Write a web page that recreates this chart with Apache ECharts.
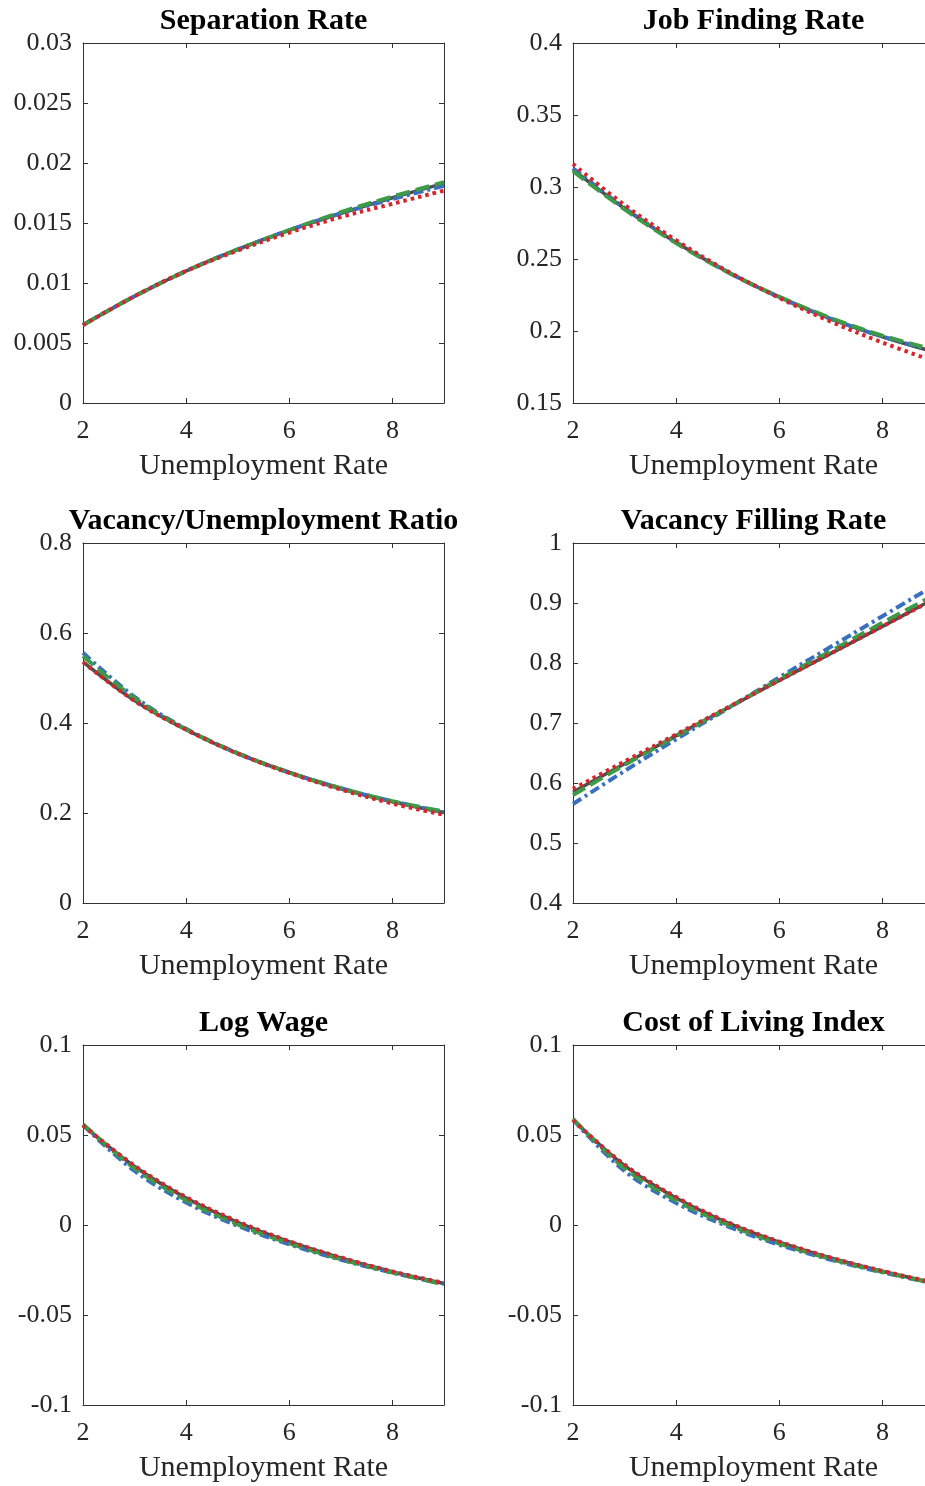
<!DOCTYPE html>
<html>
<head>
<meta charset="utf-8">
<script src="https://cdn.jsdelivr.net/npm/echarts@6/dist/echarts.min.js"></script>
<style>html,body{margin:0;padding:0;background:#fff}#c{width:925px;height:1486px}</style>
</head>
<body>
<div id="c"></div>
<script>
// ---- data ----
const unemp = [2, 3, 4, 5, 6, 7, 8, 9];
const seriesNames = ['Model A', 'Model B', 'Model C', 'Model D'];
const titles = ['Separation Rate', 'Job Finding Rate', 'Vacancy/Unemployment Ratio', 'Vacancy Filling Rate', 'Log Wage', 'Cost of Living Index'];
const xAxisName = 'Unemployment Rate';

const sepGray  = [0.0065, 0.0089, 0.0110, 0.0128, 0.0144, 0.0158, 0.0171, 0.0183];
const sepBlue  = [0.0065, 0.0089, 0.0110, 0.0128, 0.0144, 0.0158, 0.0170, 0.0181];
const sepGreen = [0.0065, 0.0089, 0.0110, 0.0128, 0.0144, 0.0159, 0.0172, 0.0184];
const sepRed   = [0.0065, 0.0089, 0.0110, 0.0127, 0.0142, 0.0155, 0.0166, 0.0177];

const jfGray  = [0.312, 0.2850, 0.2615, 0.2410, 0.2235, 0.2085, 0.1960, 0.1855];
const jfBlue  = [0.313, 0.2855, 0.2617, 0.2410, 0.2235, 0.2085, 0.1962, 0.1860];
const jfGreen = [0.311, 0.2845, 0.2610, 0.2408, 0.2237, 0.2090, 0.1968, 0.1870];
const jfRed   = [0.316, 0.2875, 0.2630, 0.2415, 0.2230, 0.2065, 0.1920, 0.1790];

const vuGray  = [0.536, 0.450, 0.385, 0.332, 0.290, 0.254, 0.225, 0.201];
const vuBlue  = [0.556, 0.458, 0.387, 0.333, 0.290, 0.255, 0.226, 0.202];
const vuGreen = [0.549, 0.455, 0.386, 0.333, 0.290, 0.255, 0.226, 0.203];
const vuRed   = [0.535, 0.449, 0.385, 0.332, 0.289, 0.252, 0.221, 0.196];

const vfGray  = [0.585, 0.632, 0.679, 0.725, 0.771, 0.816, 0.861, 0.907];
const vfBlue  = [0.565, 0.620, 0.673, 0.724, 0.776, 0.827, 0.878, 0.929];
const vfGreen = [0.580, 0.630, 0.678, 0.725, 0.773, 0.820, 0.867, 0.913];
const vfRed   = [0.590, 0.636, 0.681, 0.726, 0.771, 0.816, 0.861, 0.906];

const lwGray  = [0.0555, 0.0325, 0.0150, 0.0015, -0.0093, -0.0183, -0.0260, -0.0325];
const lwBlue  = [0.0555, 0.0300, 0.0125, -0.0005, -0.0108, -0.0193, -0.0265, -0.0327];
const lwGreen = [0.0560, 0.0315, 0.0138, 0.0003, -0.0102, -0.0190, -0.0264, -0.0330];
const lwRed   = [0.0553, 0.0330, 0.0155, 0.0020, -0.0090, -0.0180, -0.0258, -0.0322];

const colGray  = [0.0585, 0.0330, 0.0150, 0.0012, -0.0095, -0.0183, -0.0257, -0.0322];
const colBlue  = [0.0585, 0.0300, 0.0122, -0.0008, -0.0110, -0.0193, -0.0263, -0.0325];
const colGreen = [0.0590, 0.0315, 0.0136, 0.0002, -0.0103, -0.0189, -0.0261, -0.0324];
const colRed   = [0.0582, 0.0335, 0.0155, 0.0016, -0.0092, -0.0181, -0.0255, -0.0320];

const yMins = [0, 0.15, 0, 0.4, -0.1, -0.1];
const yMaxs = [0.03, 0.4, 0.8, 1, 0.1, 0.1];
const yIntervals = [0.005, 0.05, 0.2, 0.1, 0.05, 0.05];
const xMin = 2, xMax = 9, xInterval = 2;

const panelData = [
  [sepGray, sepBlue, sepGreen, sepRed],
  [jfGray, jfBlue, jfGreen, jfRed],
  [vuGray, vuBlue, vuGreen, vuRed],
  [vfGray, vfBlue, vfGreen, vfRed],
  [lwGray, lwBlue, lwGreen, lwRed],
  [colGray, colBlue, colGreen, colRed]
];

// ---- styles ----
const FONT = '"Liberation Serif", "Times New Roman", serif';
const AXC = '#333333';
const lineStyles = [
  { color: '#4d4d4d', type: 'solid', width: 3.5 },
  { color: '#3a6fc0', type: [10, 4, 3, 4], width: 4 },
  { color: '#3c9a48', type: [14, 6], width: 4 },
  { color: '#d7262b', type: [3.5, 4], width: 4 }
];
const colLeft = [83, 573];
const rowTop = [43, 543, 1045];
const W = 361, H = 360;

const grids = [], xAxes = [], yAxes = [], series = [], titleArr = [];
for (let p = 0; p < 6; p++) {
  const c = p % 2, r = Math.floor(p / 2);
  grids.push({ left: colLeft[c], top: rowTop[r], width: W, height: H, containLabel: false, outerBoundsMode: 'none' });
  titleArr.push({
    text: titles[p], left: colLeft[c] + W / 2 - 5, top: rowTop[r] - 42, textAlign: 'center',
    textStyle: { fontFamily: FONT, fontSize: 30, fontWeight: 'bold', color: '#000' }
  });
  const axLine = { show: true, onZero: false, lineStyle: { color: AXC, width: 1 } };
  const tick = { show: true, inside: true, length: 5, lineStyle: { color: AXC } };
  xAxes.push({
    type: 'value', gridIndex: p, position: 'bottom', min: xMin, max: xMax, interval: xInterval,
    name: xAxisName, nameLocation: 'middle', nameGap: 48,
    nameTextStyle: { fontFamily: FONT, fontSize: 30, color: '#262626' },
    axisLine: axLine, axisTick: tick,
    axisLabel: { fontFamily: FONT, fontSize: 26, color: '#262626', margin: 15, showMaxLabel: false },
    splitLine: { show: false }
  });
  xAxes.push({
    type: 'value', gridIndex: p, position: 'top', min: xMin, max: xMax, interval: xInterval,
    axisLine: axLine, axisTick: tick,
    axisLabel: { show: false }, splitLine: { show: false }
  });
  yAxes.push({
    type: 'value', gridIndex: p, position: 'left', min: yMins[p], max: yMaxs[p], interval: yIntervals[p],
    axisLine: axLine, axisTick: tick,
    axisLabel: { fontFamily: FONT, fontSize: 26, color: '#262626', margin: 11 },
    splitLine: { show: false }
  });
  yAxes.push({
    type: 'value', gridIndex: p, position: 'right', min: yMins[p], max: yMaxs[p], interval: yIntervals[p],
    axisLine: axLine, axisTick: tick,
    axisLabel: { show: false }, splitLine: { show: false }
  });
  panelData[p].forEach((vals, k) => {
    series.push({
      name: seriesNames[k], type: 'line', xAxisIndex: 2 * p, yAxisIndex: 2 * p,
      data: unemp.map((u, i) => [u, vals[i]]),
      smooth: 0.35, showSymbol: false, symbol: 'none', silent: true, animation: false,
      lineStyle: lineStyles[k], z: 2 + k, clip: true
    });
  });
}

const chart = echarts.init(document.getElementById('c'), null, { renderer: 'canvas' });
chart.setOption({
  backgroundColor: '#fff', animation: false,
  title: titleArr, grid: grids, xAxis: xAxes, yAxis: yAxes, series: series
});
</script>
</body>
</html>
